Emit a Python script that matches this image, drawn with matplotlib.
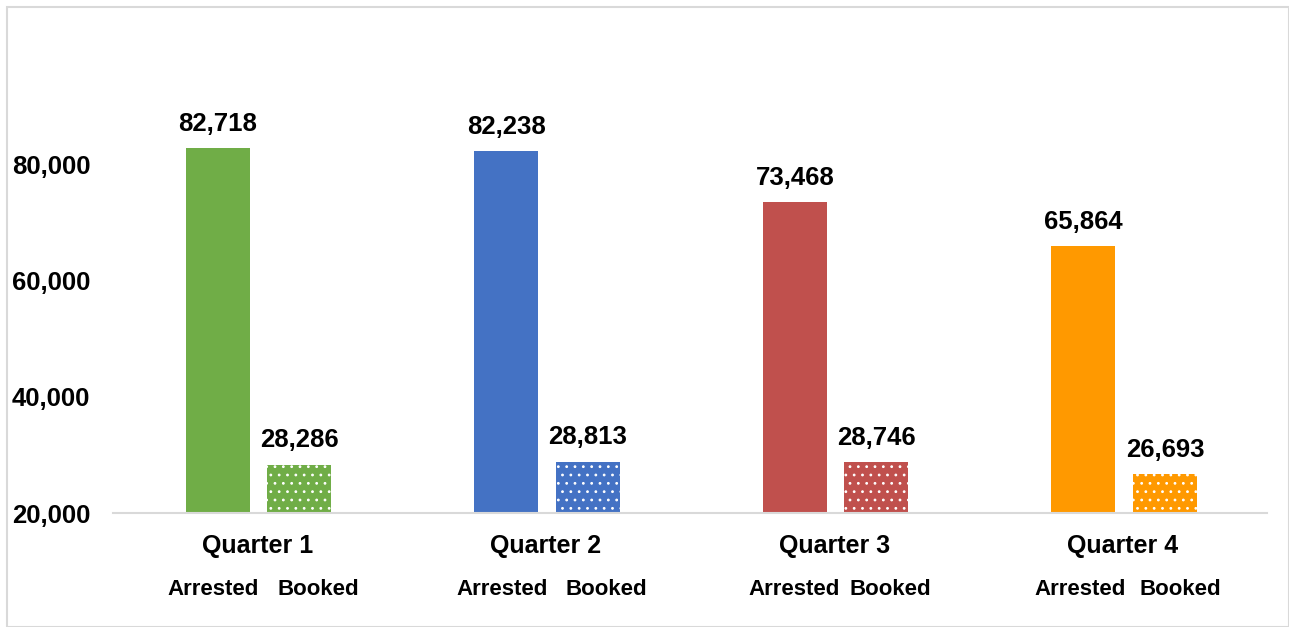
import matplotlib.pyplot as plt
import numpy as np
from matplotlib.patches import Rectangle

plt.rcParams['font.family'] = ['Liberation Sans', 'DejaVu Sans']
plt.rcParams['font.weight'] = 'bold'
plt.rcParams['hatch.linewidth'] = 0.8

quarters = ['Quarter 1', 'Quarter 2', 'Quarter 3', 'Quarter 4']
arrested = [82718, 82238, 73468, 65864]
booked = [28286, 28813, 28746, 26693]
colors = ['#70AD47', '#4472C4', '#C0504D', '#FF9900']
yticks = [20000, 40000, 60000, 80000]

# sub-label offsets (they drift a little per group)
arr_off = [-0.153, -0.151, -0.139, -0.147]
book_off = [0.212, 0.210, 0.194, 0.198]

bar_w = 0.222
x = np.arange(len(quarters))

fig = plt.figure(figsize=(12.89, 6.27), dpi=100)
ax = fig.add_axes([0.0877, 0.1818, 0.8953, 0.7416])

ax.bar(x - 0.137, arrested, width=bar_w, color=colors, linewidth=0)
ax.bar(x + 0.146, booked, width=bar_w, color=colors, edgecolor='white',
       hatch='..', linewidth=0)

for i in range(len(quarters)):
    ax.annotate(f'{arrested[i]:,}', (x[i] - 0.137, arrested[i]), xytext=(0, 9),
                textcoords='offset points', ha='center', va='bottom', fontsize=18.5)
    ax.annotate(f'{booked[i]:,}', (x[i] + 0.146, booked[i]), xytext=(0, 9),
                textcoords='offset points', ha='center', va='bottom', fontsize=18.5)
    ax.text(x[i], -0.07, quarters[i], transform=ax.get_xaxis_transform(),
            ha='center', va='center', fontsize=18)
    ax.text(x[i] + arr_off[i], -0.165, 'Arrested', transform=ax.get_xaxis_transform(),
            ha='center', va='center', fontsize=16)
    ax.text(x[i] + book_off[i], -0.165, 'Booked', transform=ax.get_xaxis_transform(),
            ha='center', va='center', fontsize=16)

ax.set_xlim(-0.5, len(quarters) - 0.5)
ax.set_ylim(20000, 100000)
ax.set_yticks(yticks)
ax.set_yticklabels([f'{v:,}' for v in yticks], fontsize=18.5)
ax.set_xticks([])
ax.tick_params(axis='y', length=0, pad=16.5)
for s in ['top', 'right', 'left']:
    ax.spines[s].set_visible(False)
ax.spines['bottom'].set_color('#D9D9D9')
ax.spines['bottom'].set_linewidth(1.5)

# light frame round the chart area
fig.patches.append(Rectangle((7 / 1289, 0), 1 - 7 / 1289, 1 - 7 / 627,
                             transform=fig.transFigure, fill=False,
                             edgecolor='#D9D9D9', linewidth=1.5))

plt.savefig('out.png', dpi=100)
